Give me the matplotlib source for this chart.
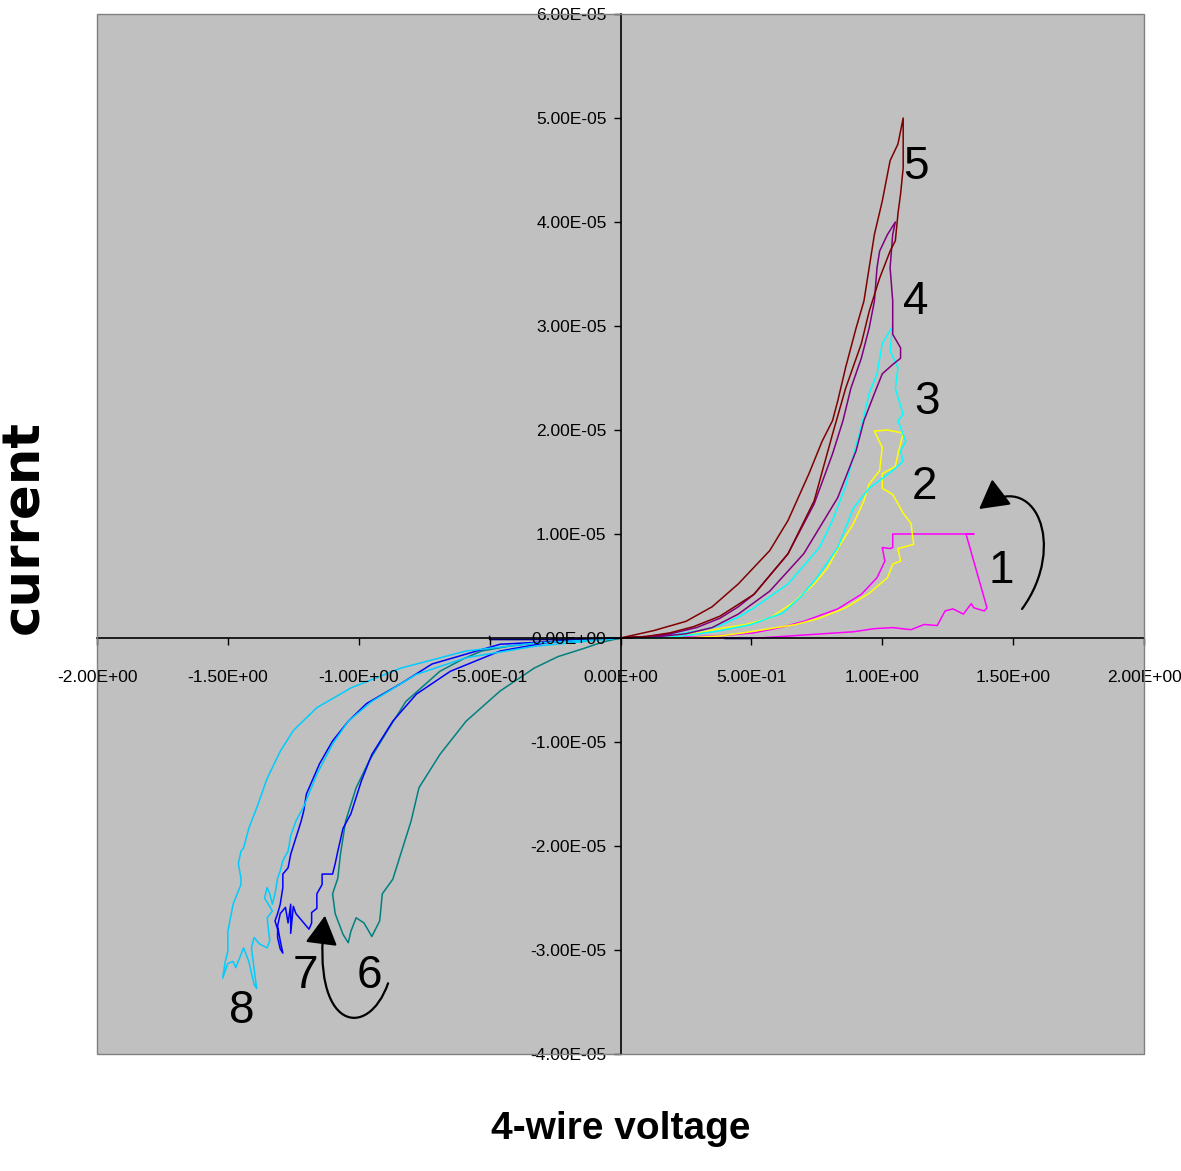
import numpy as np
import matplotlib
matplotlib.use("Agg")
import matplotlib.pyplot as plt
from matplotlib.patches import FancyArrowPatch, Rectangle
from matplotlib.path import Path
from matplotlib.ticker import FormatStrFormatter, MultipleLocator

# I-V loops, voltage in V, current in uA
V1 = [0.0, 0.27, 0.40, 0.51, 0.61, 0.70, 0.83, 0.92, 0.98, 1.01, 1.00, 1.03, 1.04, 1.04, 1.35, 1.32,
      1.39, 1.40, 1.39, 1.35, 1.34, 1.31, 1.27, 1.24, 1.21, 1.16, 1.11, 1.04, 0.97, 0.89, 0.53, 0.0]
I1 = [0.0, 0.1, 0.25, 0.5, 1.0, 1.6, 2.8, 4.2, 5.8, 7.4, 8.7, 8.6, 8.7, 10.0, 10.0, 10.0,
      3.8, 2.9, 2.6, 2.9, 3.3, 2.3, 2.8, 2.6, 1.2, 1.3, 0.8, 1.0, 0.9, 0.6, 0.0, 0.0]

V2 = [0.0, 0.15, 0.27, 0.38, 0.48, 0.57, 0.66, 0.74, 0.79, 0.84, 0.89, 0.93, 0.95, 0.99, 1.00,
      0.97, 1.02, 1.08, 1.06, 1.05, 1.00, 1.00, 1.04, 1.08, 1.11, 1.12, 1.06, 1.07, 1.04, 1.02,
      0.95, 0.86, 0.76, 0.67, 0.57, 0.47, 0.38, 0.25, 0.0]
I2 = [0.0, 0.0, 0.35, 0.9, 1.3, 1.9, 3.4, 5.2, 6.7, 9.0, 11.0, 13.2, 14.8, 16.1, 18.3,
      19.9, 20.0, 19.7, 17.7, 16.5, 15.8, 14.4, 13.8, 12.0, 11.0, 9.0, 8.6, 7.4, 7.1, 5.8,
      4.3, 2.9, 1.9, 1.3, 0.9, 0.5, 0.2, 0.0, 0.0]

V3 = [0.0, 0.07, 0.20, 0.30, 0.38, 0.45, 0.51, 0.64, 0.76, 0.81, 0.86, 0.90, 0.93, 0.95, 0.98,
      1.00, 1.04, 1.03, 1.06, 1.05, 1.08, 1.06, 1.09, 1.07, 1.08, 1.04, 0.95, 0.89, 0.83, 0.75,
      0.69, 0.62, 0.50, 0.38, 0.27, 0.15, 0.0]
I3 = [0.0, 0.0, 0.3, 0.7, 1.2, 2.0, 2.9, 5.2, 8.7, 11.3, 14.6, 18.5, 21.3, 23.5, 25.4,
      28.3, 30.0, 27.6, 26.0, 24.0, 21.5, 20.9, 18.9, 18.0, 17.0, 16.1, 14.4, 12.5, 8.7, 5.8,
      4.0, 2.4, 1.3, 0.7, 0.3, 0.0, 0.0]

V4 = [0.0, 0.10, 0.19, 0.29, 0.38, 0.45, 0.51, 0.64, 0.74, 0.81, 0.85, 0.88, 0.92, 0.95, 0.97,
      0.98, 0.99, 1.02, 1.05, 1.04, 1.03, 1.04, 1.04, 1.07, 1.07, 1.04, 1.00, 0.97, 0.93, 0.90,
      0.83, 0.70, 0.57, 0.45, 0.35, 0.25, 0.15, 0.0]
I4 = [0.0, 0.15, 0.4, 1.0, 1.9, 3.0, 4.2, 8.1, 12.9, 17.7, 20.9, 24.0, 26.9, 29.8, 32.4,
      35.6, 37.2, 38.8, 40.0, 38.8, 35.6, 32.4, 29.2, 27.9, 26.9, 26.3, 25.4, 23.5, 20.9, 18.0,
      13.5, 8.1, 4.5, 2.3, 1.0, 0.4, 0.15, 0.0]

V5 = [0.0, 0.125, 0.25, 0.35, 0.45, 0.57, 0.64, 0.72, 0.77, 0.81, 0.83, 0.86, 0.90, 0.93, 0.95,
      0.97, 1.00, 1.02, 1.03, 1.06, 1.08, 1.08, 1.08, 1.07, 1.06, 1.05, 1.03, 0.99, 0.95, 0.92,
      0.86, 0.81, 0.74, 0.64, 0.51, 0.38, 0.28, 0.19, 0.10, 0.0]
I5 = [0.0, 0.7, 1.6, 3.0, 5.2, 8.4, 11.3, 15.8, 18.9, 20.9, 22.8, 26.0, 29.8, 32.4, 35.6,
      38.8, 42.0, 44.6, 45.9, 47.5, 50.0, 49.0, 45.2, 42.7, 40.8, 38.2, 37.2, 34.6, 31.4, 28.3,
      24.0, 19.6, 13.2, 8.1, 4.2, 2.1, 1.1, 0.5, 0.15, 0.0]

V6 = [0.0, -0.07, -0.14, -0.24, -0.33, -0.46, -0.59, -0.69, -0.77, -0.80, -0.84, -0.87, -0.91,
      -0.92, -0.95, -0.98, -1.01, -1.03, -1.04, -1.06, -1.09, -1.10, -1.08, -1.07, -1.05, -1.01,
      -0.96, -0.89, -0.82, -0.69, -0.60, -0.53, -0.43, -0.33, -0.14, 0.0]
I6 = [0.0, -0.4, -1.0, -1.8, -2.9, -5.1, -8.0, -11.2, -14.4, -17.6, -20.8, -23.2, -24.6,
      -27.2, -28.7, -27.4, -26.9, -28.2, -29.3, -28.5, -26.5, -24.6, -23.1, -20.8, -17.6, -14.4,
      -11.8, -8.9, -6.1, -3.2, -2.0, -1.25, -0.8, -0.5, -0.1, 0.0]

V7 = [0.0, -0.46, -0.72, -0.84, -0.97, -1.04, -1.10, -1.15, -1.20, -1.21, -1.22, -1.24, -1.26,
      -1.27, -1.29, -1.29, -1.30, -1.31, -1.32, -1.31, -1.31, -1.30, -1.29, -1.30, -1.31, -1.30,
      -1.28, -1.27, -1.26, -1.26, -1.25, -1.24, -1.21, -1.19, -1.18, -1.18, -1.16, -1.16, -1.14,
      -1.14, -1.10, -1.09, -1.08, -1.06, -1.03, -0.99, -0.95, -0.87, -0.78, -0.65, -0.46, -0.27, 0.0]
I7 = [0.0, -0.6, -2.5, -4.4, -6.3, -8.0, -9.9, -12.1, -15.0, -16.6, -17.6, -19.2, -20.8,
      -22.1, -22.7, -24.0, -25.6, -26.5, -27.2, -28.0, -28.8, -29.9, -30.3, -29.1, -27.7, -26.5,
      -25.9, -27.4, -25.6, -28.4, -25.8, -26.5, -27.4, -28.0, -27.4, -26.4, -26.0, -24.6, -23.7,
      -22.7, -22.7, -21.7, -20.5, -18.3, -16.9, -13.75, -11.2, -8.0, -5.4, -3.2, -1.25, -0.4, 0.0]

V8 = [0.0, -0.33, -0.59, -0.84, -1.03, -1.16, -1.25, -1.30, -1.35, -1.385, -1.42, -1.44, -1.45,
      -1.46, -1.45, -1.45, -1.48, -1.49, -1.50, -1.50, -1.51, -1.52, -1.50, -1.48, -1.47, -1.44,
      -1.42, -1.40, -1.39, -1.41, -1.40, -1.38, -1.35, -1.34, -1.35, -1.33, -1.36, -1.35, -1.34,
      -1.33, -1.32, -1.31, -1.30, -1.29, -1.27, -1.26, -1.24, -1.21, -1.16, -1.10, -1.04, -0.95,
      -0.78, -0.59, -0.33, 0.0]
I8 = [0.0, -0.5, -1.25, -2.9, -4.8, -6.7, -8.9, -10.9, -13.5, -16.0, -18.3, -20.2, -20.5,
      -21.7, -23.1, -23.7, -25.6, -26.9, -28.2, -30.1, -31.1, -32.7, -31.3, -31.1, -31.7, -29.8,
      -31.1, -33.3, -33.7, -29.8, -28.8, -29.4, -29.8, -29.1, -26.9, -26.25, -25.0, -24.0, -24.6,
      -25.6, -24.6, -23.1, -22.4, -21.4, -20.5, -19.0, -17.6, -16.2, -13.1, -10.2, -8.0, -6.1,
      -3.5, -1.9, -0.8, 0.0]

# short low-current trace lying on the axis
V9 = [-0.50, -0.50, -0.25, 0.0, np.nan, 0.40, 0.50]
I9 = [0.15, -0.15, -0.15, 0.0, np.nan, -0.05, -0.05]

loops = [(V1, I1), (V2, I2), (V3, I3), (V4, I4), (V5, I5), (V6, I6), (V7, I7), (V8, I8), (V9, I9)]
colors = ["#FF00FF", "#FFFF00", "#00FFFF", "#800080", "#800000",
          "#008080", "#0000FF", "#00CCFF", "#000080"]

# loop numbers: label, V, I (uA) of baseline centre
labels = ["1", "2", "3", "4", "5", "6", "7", "8"]
label_v = [1.454, 1.160, 1.171, 1.129, 1.129, -0.961, -1.205, -1.446]
label_i = [5.3, 13.4, 21.5, 31.15, 44.1, -33.65, -33.65, -37.0]

tick_font = ["Liberation Sans", "DejaVu Sans"]

fig = plt.figure(figsize=(11.81, 11.71), dpi=100)
ax = fig.add_axes([97 / 1181, 1 - 1054 / 1171, (1144 - 97) / 1181, (1054 - 14) / 1171])
ax.set_facecolor("#C0C0C0")

for (v, i), c in zip(loops, colors):
    ax.plot(v, np.array(i) * 1e-6, color=c, lw=1.1, solid_joinstyle="round")

ax.set_xlim(-2, 2)
ax.set_ylim(-4e-5, 6e-5)
ax.xaxis.set_major_locator(MultipleLocator(0.5))
ax.yaxis.set_major_locator(MultipleLocator(1e-5))
ax.xaxis.set_major_formatter(FormatStrFormatter("%.2E"))
ax.yaxis.set_major_formatter(FormatStrFormatter("%.2E"))

ax.spines["left"].set_position(("data", 0))
ax.spines["bottom"].set_position(("data", 0))
for s in ["left", "bottom"]:
    ax.spines[s].set_color("black")
    ax.spines[s].set_linewidth(1.2)
ax.spines["top"].set_visible(False)
ax.spines["right"].set_visible(False)
ax.add_patch(Rectangle((0, 0), 1, 1, transform=ax.transAxes, fill=False,
                       edgecolor="#808080", lw=1.0, clip_on=False, zorder=3))
ax.set_axisbelow(False)

ax.tick_params(axis="x", direction="out", length=5, width=1, pad=18)
ax.tick_params(axis="y", direction="out", length=5, width=1, pad=5)
for lab in ax.get_xticklabels() + ax.get_yticklabels():
    lab.set_family(tick_font)
    lab.set_fontsize(12.5)

for t, v, i in zip(labels, label_v, label_i):
    ax.text(v, i * 1e-6, t, fontsize=33, family=["Liberation Sans", "DejaVu Sans"],
            ha="center", va="baseline", zorder=5)

# hand-drawn sweep direction arrows (V, uA)
arrow_paths = [
    [(1.534, 2.79), (1.710, 8.85), (1.584, 16.5), (1.370, 12.4)],
    [(-0.888, -33.2), (-0.965, -38.75), (-1.186, -37.8), (-1.129, -26.7)],
]
for pts in arrow_paths:
    verts = [(v, i * 1e-6) for v, i in pts]
    p = Path(verts, [Path.MOVETO, Path.CURVE4, Path.CURVE4, Path.CURVE4])
    arr = FancyArrowPatch(path=p, arrowstyle="-|>,head_length=0.45,head_width=0.25",
                          mutation_scale=40, color="black", lw=1.6,
                          shrinkA=0, shrinkB=0, zorder=6)
    ax.add_patch(arr)

fig.text(620.5 / 1181, 1 - 1139 / 1171, "4-wire voltage", fontsize=28, fontweight="bold",
         family=["Liberation Sans", "DejaVu Sans"], ha="center", va="baseline")
fig.text(24 / 1181, 1 - 527 / 1171, "current", fontsize=37, fontweight="bold",
         family=["DejaVu Sans"], rotation=90, ha="center", va="center")

fig.savefig("out.png", dpi=100)
